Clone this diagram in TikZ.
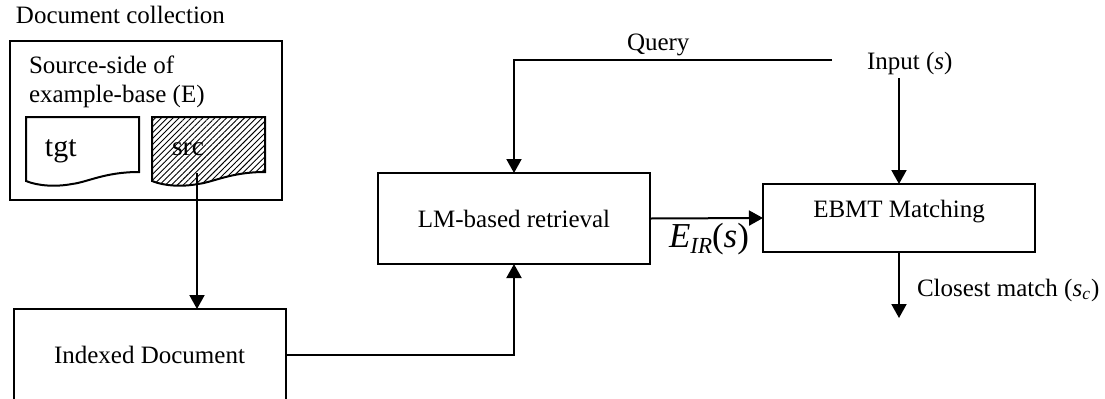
\documentclass[tikz,border=0pt]{standalone}
\usepackage{fontspec}
\setmainfont{Liberation Serif}
\usetikzlibrary{arrows.meta,patterns.meta,calc}
\tikzset{
  x=0.5pt,y=-0.5pt,
  every node/.style={font=\fontsize{12.5pt}{15pt}\selectfont,inner sep=0pt,outer sep=0pt},
  procbox/.style={draw=black,line width=1pt,rectangle,minimum width=136pt,anchor=center},
  lbl/.style={anchor=base west},
  conn/.style={line width=1pt,draw=black},
  arr/.style={conn,-{Triangle[length=7pt,width=7.5pt]}},
  docshape/.style={draw=black,line width=1pt,line join=miter},
}
\begin{document}
\begin{tikzpicture}
\useasboundingbox (0,0) rectangle (1105,398);
% outer document collection
\node[lbl] (dc) at (16,23) {Document collection};
\node[draw=black,line width=1pt,minimum width=136pt,minimum height=79.5pt,anchor=north west] (ebox) at (10,41) {};
\node[lbl] (s1) at (29,73) {Source-side of};
\node[lbl] (s2) at (29,102) {example-base (E)};
% documents
\draw[docshape] (26,117) -- (139,117) -- (139,172)
  .. controls (105,172) and (88,182) .. (72,184)
  .. controls (56,187) and (38,186) .. (26,181) -- cycle;
\draw[docshape,pattern={Lines[angle=45,distance=2.1pt,line width=0.45pt]},pattern color=black]
  (152,117) -- (265,117) -- (265,172)
  .. controls (231,172) and (214,182) .. (198,184)
  .. controls (182,187) and (164,186) .. (152,181) -- cycle;
\node[lbl,font=\fontsize{15pt}{18pt}\selectfont] (tgt) at (45,156) {tgt};
\node[lbl,font=\fontsize{13.7pt}{16pt}\selectfont] (src) at (172,155) {src};
\coordinate (srcout) at (197,173);
% boxes
\node[procbox,minimum height=45.5pt,text height=8.5pt,text depth=0pt] (lm) at (514,218.5) {LM-based retrieval};
\node[procbox,minimum height=34pt,text height=3pt,text depth=4pt] (ebmt) at (899,218) {EBMT Matching};
\node[procbox,minimum height=45.5pt,text height=9pt,text depth=0pt] (idx) at (149.5,354.5) {Indexed Document};
% free labels
\node[lbl] (query) at (627,50) {Query};
\node[lbl] (input) at (867,69) {Input (\textit{s})};
\node[lbl] (closest) at (917,296) {Closest match (\textit{s}\textsubscript{\textit{c}})};
\node[lbl,font=\fontsize{17.5pt}{20pt}\selectfont] (eir) at (669,247) {\textit{E}\raisebox{-3pt}{\fontsize{11.5pt}{13pt}\selectfont\textit{IR}}(\textit{s})};
\coordinate (qstart) at (832,60);
\coordinate (instart) at (899,78);
\coordinate (mout) at (899,318);
% connectors
\draw[arr] (srcout) -- (srcout |- idx.north);
\draw[arr] (idx.east) -| (lm.south);
\draw[arr] (qstart) -| (lm.north);
\draw[arr] (instart) -- (ebmt.north);
\draw[arr] (lm.east) -- (ebmt.west);
\draw[arr] (ebmt.south) -- (mout);
\end{tikzpicture}
\end{document}
